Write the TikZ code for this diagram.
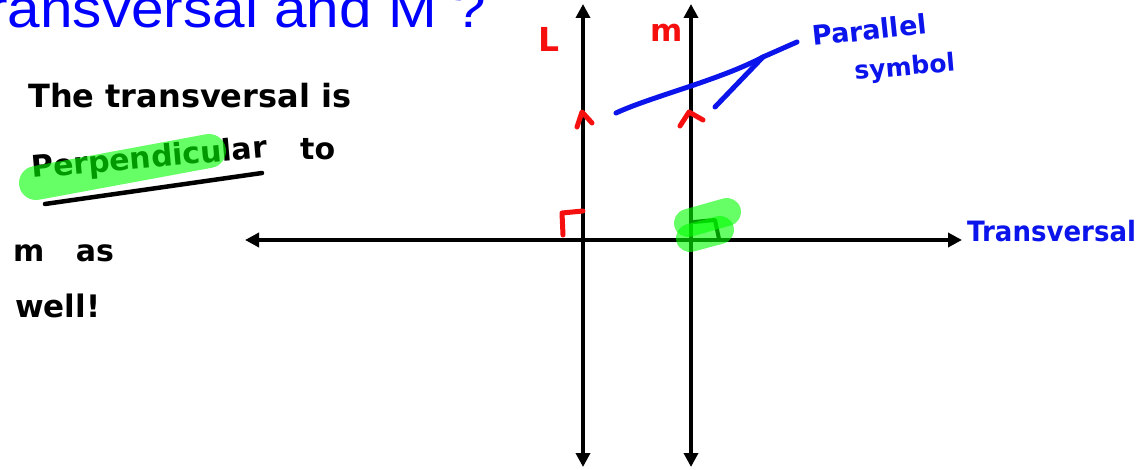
\documentclass[tikz,border=0pt]{standalone}
\usepackage{fontspec}
\setmainfont{DejaVu Sans}
\newfontfamily\titlefont{Liberation Sans}
\usetikzlibrary{arrows.meta}
\definecolor{titleblue}{RGB}{0,0,255}
\definecolor{penblue}{RGB}{10,20,235}
\definecolor{penred}{RGB}{245,15,15}
\definecolor{hlgreen}{RGB}{0,255,0}
\tikzset{
  axis/.style={line width=3.5pt,{Triangle[length=14pt,width=14pt]}-{Triangle[length=14pt,width=14pt]}},
  hand/.style={font=\bfseries\fontsize{#1}{#1}\selectfont,inner sep=0pt,text=black},
  redpen/.style={draw=penred,line width=5pt,line cap=round,line join=round},
  bluepen/.style={draw=penblue,line width=5pt,line cap=round,line join=round},
  blackpen/.style={draw=black,line width=4.5pt,line cap=round,line join=round},
  highlight/.style={draw=hlgreen,draw opacity=0.6,line width=32pt,line cap=round},
}
\begin{document}
\begin{tikzpicture}[x=1pt,y=-1pt]
\useasboundingbox (0,0) rectangle (1141,470);
\clip (0,0) rectangle (1141,470);
% title
\node[anchor=base east,inner sep=0pt,text=titleblue,xscale=1.083,font=\titlefont\fontsize{54}{54}\selectfont] (title) at (486,28) {Transversal and M ?};
% axes
\coordinate (Htl) at (245,240);
\coordinate (Htr) at (962,240);
\coordinate (Ltop) at (583,4);
\coordinate (Lbot) at (583,467);
\coordinate (Mtop) at (691,4);
\coordinate (Mbot) at (691,467);
\draw[axis] (Htl) -- (Htr);
\draw[axis] (Lbot) -- (Ltop);
\draw[axis] (Mbot) -- (Mtop);
% handwritten left text
\node[hand=32,anchor=base west] (t1) at (28,108) {The transversal is};
\node[hand=30,anchor=base west,rotate=5] (t2) at (32,178) {Perpendicular};
\node[hand=30,anchor=base west] (t3) at (300,160) {to};
\coordinate (ul1) at (45,204);
\coordinate (ul2) at (262,173);
\draw[blackpen] (ul1) -- (ul2);
\node[hand=30,anchor=base west] (t4) at (13,262) {m\ \ \ as};
\node[hand=31,anchor=base west] (t5) at (15,318) {well!};
% labels L and m
\node[hand=33,anchor=base west,text=penred] (Llab) at (538,52) {L};
\node[hand=31,anchor=base west,text=penred] (Mlab) at (650,42) {m};
% parallel marks
\coordinate (la) at (577,127);
\coordinate (lb) at (582,112);
\coordinate (lc) at (592,123);
\draw[redpen] (la) -- (lb) -- (lc);
\coordinate (ma) at (680,126);
\coordinate (mb) at (689,112);
\coordinate (mc) at (703,120);
\draw[redpen] (ma) -- (mb) -- (mc);
% right angle marks
\coordinate (ra1) at (563,235);
\coordinate (ra2) at (562,213);
\coordinate (ra3) at (583,211);
\draw[redpen] (ra1) -- (ra2) -- (ra3);
\coordinate (ga1) at (694,222);
\coordinate (ga2) at (715,220);
\coordinate (ga3) at (719,239);
\draw[blackpen,line width=4pt] (ga1) -- (ga2) -- (ga3);
% blue pointer
\coordinate (p1) at (616,113);
\coordinate (p2) at (763,57);
\coordinate (p3) at (797,42);
\coordinate (p4) at (715,107);
\draw[bluepen] (p1) .. controls (650,97) and (720,80) .. (p2) -- (p3);
\draw[bluepen] (p4) -- (p2);
\node[hand=27,anchor=base west,text=penblue,rotate=6] (par) at (813,46) {Parallel};
\node[hand=25,anchor=base west,text=penblue,rotate=5] (sym) at (855,80) {symbol};
\node[hand=28,anchor=base west,text=penblue,xscale=0.93] (trans) at (967,242) {Transversal};
% highlights
\coordinate (h1a) at (36,183);
\coordinate (h1b) at (209,151);
\draw[highlight,line width=34pt] (h1a) -- (h1b);
\coordinate (h2a) at (688,223);
\coordinate (h2b) at (727,212);
\draw[highlight,line width=28pt] (h2a) -- (h2b);
\coordinate (h3a) at (690,238);
\coordinate (h3b) at (720,230);
\draw[highlight,line width=28pt] (h3a) -- (h3b);
\end{tikzpicture}
\end{document}
